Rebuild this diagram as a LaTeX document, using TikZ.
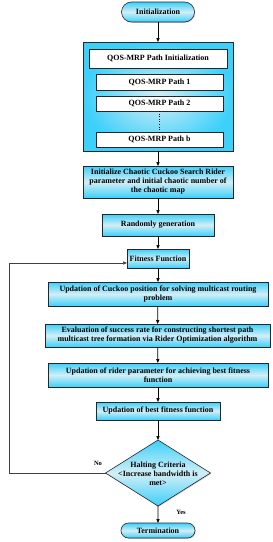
\documentclass[tikz,border=0pt]{standalone}
\usepackage{fontspec}
\setmainfont{Liberation Serif}
\usetikzlibrary{arrows.meta,shapes.misc,shapes.geometric,shadows}
\definecolor{cyanE}{RGB}{60,208,250}
\definecolor{cyanM}{RGB}{210,238,246}
\begin{document}
\begin{tikzpicture}[x=1pt,y=-1pt,
  every node/.style={inner sep=0pt,outer sep=0pt},
  txt/.style={font=\fontsize{8}{9}\selectfont\bfseries,align=center},
  shad/.style={drop shadow={shadow xshift=0.8pt,shadow yshift=-0.8pt,fill=black!35}},
  procbox/.style={rectangle,draw=black!85,line width=0.6pt,top color=cyanE,bottom color=cyanE,middle color=cyanM,shad,txt},
  whitebox/.style={rectangle,draw=black!85,line width=0.6pt,fill=white,shad,txt},
  pill/.style={rounded rectangle,draw=black!85,line width=0.6pt,top color=cyanE,bottom color=cyanE,middle color=cyanM,shad,txt},
  arr/.style={-{Triangle[length=4pt,width=3.2pt]},line width=0.7pt,black},
  lbl/.style={font=\fontsize{6.5}{7.5}\selectfont\bfseries}
]
\useasboundingbox (0,0) rectangle (273,542);

\node[pill,minimum width=73pt,minimum height=20pt] (init) at (158,12) {Initialization};

\node[rectangle,draw=black!85,line width=0.7pt,shading=radial,inner color=cyanM,outer color=cyanE,shad,minimum width=150pt,minimum height=109pt] (outer) at (158,96.5) {};
\node[whitebox,minimum width=138pt,minimum height=19pt] (pinit) at (158,58.5) {QOS-MRP Path Initialization};
\node[whitebox,minimum width=127pt,minimum height=16pt] (p1) at (159.5,82) {QOS-MRP Path 1};
\node[whitebox,minimum width=127pt,minimum height=15pt] (p2) at (159.5,103.5) {QOS-MRP Path 2};
\node[whitebox,minimum width=127pt,minimum height=15pt] (pb) at (159.5,139.5) {QOS-MRP Path b};
\draw[dotted,line width=0.6pt] (p2.south) -- (pb.north);

\node[procbox,minimum width=150pt,minimum height=32pt] (ccsr) at (158,182) {Initialize Chaotic Cuckoo Search Rider\\parameter and initial chaotic number of\\the chaotic map};
\node[procbox,minimum width=112pt,minimum height=22pt] (rand) at (158,225) {Randomly generation};
\node[procbox,minimum width=62pt,minimum height=19pt] (fit) at (158,258.5) {Fitness Function};
\node[procbox,minimum width=220pt,minimum height=24pt] (cuck) at (158,294) {Updation of Cuckoo position for solving multicast routing\\problem};
\node[procbox,minimum width=225pt,minimum height=23pt] (eval) at (157.5,335.5) {Evaluation of success rate for constructing shortest path\\multicast tree formation via Rider Optimization algorithm};
\node[procbox,minimum width=220pt,minimum height=24pt] (rider) at (158,375) {Updation of rider parameter for achieving best fitness\\function};
\node[procbox,minimum width=124pt,minimum height=18pt] (best) at (158,411) {Updation of best fitness function};

\node[diamond,draw=black!85,line width=0.6pt,top color=cyanE,bottom color=cyanE,middle color=cyanM,shad,minimum width=105pt,minimum height=66pt] (dia) at (158,473) {};
\node[txt] (diatext) at (158,474) {Halting Criteria\\{<}Increase bandwidth is\\met{>}};

\node[pill,minimum width=74pt,minimum height=15pt] (term) at (158,530.5) {Termination};

\draw[arr] (init) -- (outer);
\draw[arr] (outer) -- (ccsr);
\draw[arr] (ccsr) -- (rand);
\draw[arr] (rand) -- (fit);
\draw[arr] (fit) -- (cuck);
\draw[arr] (cuck) -- (eval);
\draw[arr] (eval) -- (rider);
\draw[arr] (rider) -- (best);
\draw[arr] (best) -- (dia);
\draw[arr] (dia) -- (term);

\coordinate (la) at (9,473);
\coordinate (lb) at (9,263);
\draw[arr,black!75] (dia.west) -- (la) -- (lb) -- (lb -| fit.west);

\node[lbl] (no) at (98,463) {No};
\node[lbl] (yes) at (181,512) {Yes};
\end{tikzpicture}
\end{document}
